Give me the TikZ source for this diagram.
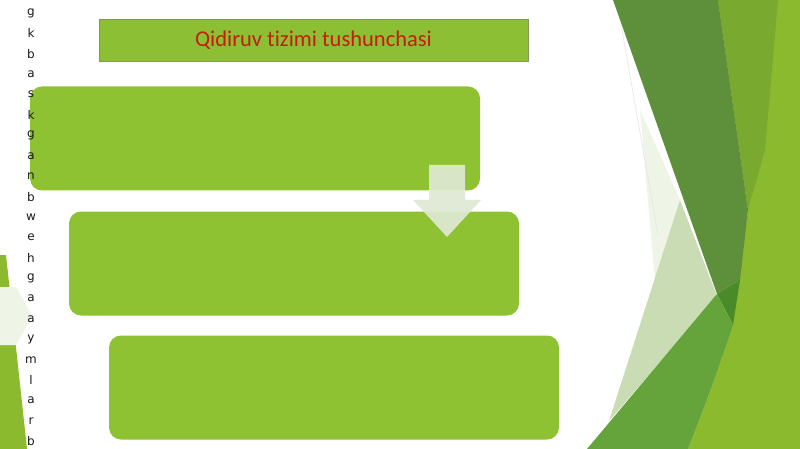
\documentclass[tikz,border=0pt]{standalone}
\usepackage{fontspec}
\setmainfont{Carlito}[Ligatures=NoCommon]
\newfontfamily\lettfont{DejaVu Sans}
\definecolor{boxgreen}{HTML}{8FC232}
\definecolor{titlegreen}{HTML}{8CBF34}
\definecolor{titleborder}{HTML}{7F9A5C}
\definecolor{titletext}{HTML}{C41E0A}
\definecolor{darkband}{HTML}{5E8F3A}
\definecolor{darkstripe}{HTML}{4A8A28}
\definecolor{midtop}{HTML}{79A92E}
\definecolor{bright}{HTML}{8BBA2E}
\definecolor{midbottom}{HTML}{64A43A}
\definecolor{pale}{HTML}{C9DCB3}
\definecolor{paler}{HTML}{EEF4E6}
\definecolor{arrowpale}{HTML}{DFE9D3}
\tikzset{
  stepbox/.style={draw=none, fill=boxgreen, rounded corners=12pt, minimum width=450pt, minimum height=104pt, inner sep=0pt},
  titlebox/.style={draw=titleborder, line width=0.8pt, fill=titlegreen, minimum width=429pt, minimum height=42pt, inner sep=0pt, text=titletext, font=\fontsize{22.5}{24}\selectfont},
  lett/.style={font=\lettfont\fontsize{12}{12}\selectfont, text=black!90, inner sep=0pt}
}
\begin{document}
\begin{tikzpicture}[x=1pt,y=-1pt]
\useasboundingbox (0,0) rectangle (800,449);
\fill[white] (0,0) rectangle (800,449);
% right decoration
\fill[bright] (718,0) -- (800,0) -- (800,449) -- (688,449) -- (707,400) -- (733,322) -- (748,210) -- cycle;
\fill[midtop] (718,0) -- (778,0) -- (765,150) -- (748,210) -- cycle;
\fill[paler] (640,110) -- (680,200) -- (655,280) -- cycle;
\draw[black!10, line width=0.6pt] (622,30) -- (658,235);
\fill[pale] (680,200) -- (717,296) -- (609,421) -- cycle;
\fill[darkband] (613,0) -- (718,0) -- (748,210) -- (740,280) -- (717,294) -- cycle;
\fill[darkstripe] (717,294) -- (740,280) -- (733,325) -- cycle;
\fill[midbottom] (717,294) -- (733,325) -- (707,400) -- (688,449) -- (587,449) -- cycle;
% left decoration
\fill[bright] (0,255) -- (6,255) -- (27,449) -- (0,449) -- cycle;
\fill[paler] (0,287) -- (16,287) -- (32,316) -- (16,345) -- (0,345) -- cycle;
% title
\node[titlebox] (title) at (313.5,40) {Qidiruv tizimi tushunchasi};
% boxes
\node[stepbox] (b1) at (255,138.5) {};
\node[stepbox] (b2) at (294,263.5) {};
\node[stepbox] (b3) at (334,387.5) {};
% arrow between box 1 and box 2
\fill[arrowpale, fill opacity=0.92] (429,165) -- (465,165) -- (465,200) -- (481,200) -- (447,237) -- (413,200) -- (429,200) -- cycle;
% letters on the left edge
\foreach \ch [count=\i from 0] in {g,k,b,a,s,k,g,a,n,b,w,e,h,g,a,a,y,m,l,a,r,b}{
  \node[lett] (l\i) at (31,{13+20.4*\i}) {\ch};
}
\end{tikzpicture}
\end{document}
